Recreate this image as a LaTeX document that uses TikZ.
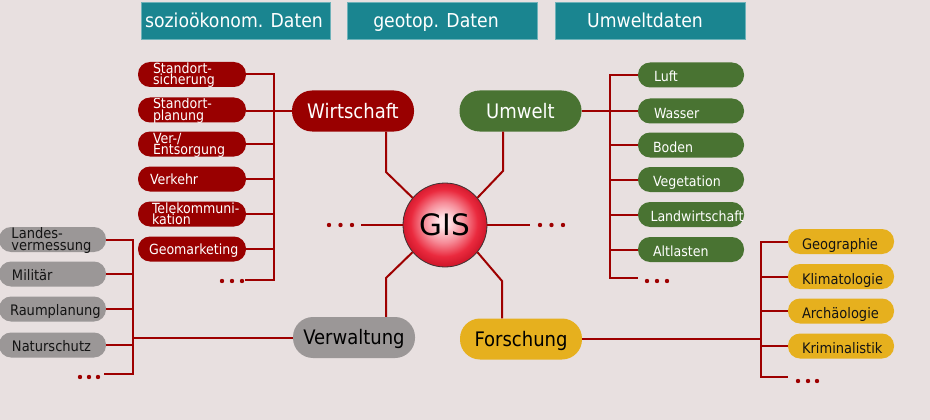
\documentclass[tikz,border=0pt]{standalone}
\usepackage{fontspec}
\setmainfont{DejaVu Sans Condensed}
\newfontfamily\gisfamily{DejaVu Sans}
\usetikzlibrary{calc}
\definecolor{bg}{RGB}{232,224,224}
\definecolor{boxred}{RGB}{153,0,0}
\definecolor{linered}{RGB}{158,0,0}
\definecolor{boxgreen}{RGB}{73,115,50}
\definecolor{boxgray}{RGB}{155,151,151}
\definecolor{boxyellow}{RGB}{230,176,30}
\definecolor{topteal}{RGB}{26,133,144}
\definecolor{topedge}{RGB}{110,178,185}
\definecolor{gispale}{RGB}{255,228,232}
\definecolor{gispink}{RGB}{246,140,152}
\definecolor{gisred}{RGB}{234,42,62}
\definecolor{gisdark}{RGB}{210,24,44}
\definecolor{gisborder}{RGB}{60,50,50}
\pgfdeclareradialshading{gisball}{\pgfpoint{-1bp}{2bp}}{color(0bp)=(gispale); color(3bp)=(gispale); color(12bp)=(gispink); color(20bp)=(gisred); color(25bp)=(gisdark); color(50bp)=(gisdark)}
\newcommand\OneLine[5]{%
  \begin{scope}\clip[rounded corners=12pt] (#1.south west) rectangle (#1.north east);
  \node[#4, anchor=base west] (#1t) at ($(#1.west)+(#2,#3)$) {#5};\end{scope}}
\newcommand\TwoLine[7]{%
  \begin{scope}\clip[rounded corners=12pt] (#1.south west) rectangle (#1.north east);
  \node[#4, anchor=base west] (#1t) at ($(#1.west)+(#2,#3)$) {\vtop{\baselineskip=#5\lineskiplimit=-50pt\hbox{#6}\hbox{#7}}};\end{scope}}
\tikzset{
  conn/.style={draw=linered, line width=2pt},
  item/.style={minimum height=25pt, rounded corners=12pt, inner sep=0pt},
  itemred/.style={item, fill=boxred, minimum width=108pt},
  itemgreen/.style={item, fill=boxgreen, minimum width=106pt},
  itemgray/.style={item, fill=boxgray, minimum width=107pt},
  itemyellow/.style={item, fill=boxyellow, minimum width=106pt},
  wtext/.style={text=white, inner sep=0pt, font=\fontsize{14}{11}\selectfont},
  btext/.style={text=black!92, inner sep=0pt, font=\fontsize{14.5}{12}\selectfont},
  big/.style={minimum width=122pt, minimum height=41pt, rounded corners=20pt, inner sep=0pt, font=\fontsize{20}{24}\selectfont, text height=18.6pt, text depth=4pt},
  topbox/.style={fill=topteal, draw=topedge, line width=0.6pt, minimum height=37pt, inner sep=0pt},
  toptext/.style={text=white, inner sep=0pt, font=\fontsize{19.2}{23}\selectfont, text height=18pt, text depth=4pt},
  dot/.style={fill=linered}
}
\begin{document}
\begin{tikzpicture}[x=1pt,y=-1pt]
\useasboundingbox (0,0) rectangle (930,420);
\fill[bg] (0,0) rectangle (930,420);

% top data boxes
\node[topbox, minimum width=189pt] (d1) at (235.5,20.5) {};
\node[toptext] (d1t) at (234,20.5) {sozioökonom. Daten};
\node[topbox, minimum width=190pt] (d2) at (442,20.5) {};
\node[toptext] (d2t) at (436,20.5) {geotop. Daten};
\node[topbox, minimum width=190pt] (d3) at (650,20.5) {};
\node[toptext] (d3t) at (645,20.5) {Umweltdaten};

% main nodes
\node[big, fill=boxred, text=white] (wirt) at (353,111) {Wirtschaft};
\node[big, fill=boxgreen, text=white] (umw) at (520.5,111) {Umwelt};
\node[big, fill=boxgray, text=black] (verw) at (354,337.5) {Verwaltung};
\node[big, fill=boxyellow, text=black] (forsch) at (521,339) {Forschung};

% red items
\node[itemred] (r1) at (192,74.5) {};
\node[itemred] (r2) at (192,110) {};
\node[itemred] (r3) at (192,144) {};
\node[itemred] (r4) at (192,179) {};
\node[itemred] (r5) at (192,214) {};
\node[itemred] (r6) at (192,249) {};
\TwoLine{r1}{15}{-1}{wtext}{11.5pt}{Standort-}{sicherung}
\TwoLine{r2}{15}{-1}{wtext}{11.5pt}{Standort-}{planung}
\TwoLine{r3}{15}{-1}{wtext}{11.5pt}{Ver-/}{Entsorgung}
\OneLine{r4}{12}{5}{wtext}{Verkehr}
\TwoLine{r5}{14}{-1}{wtext}{11.5pt}{Telekommuni-}{kation}
\OneLine{r6}{11}{5}{wtext}{Geomarketing}

% green items
\node[itemgreen] (e1) at (691,75) {};
\node[itemgreen] (e2) at (691,111) {};
\node[itemgreen] (e3) at (691,145) {};
\node[itemgreen] (e4) at (691,179.5) {};
\node[itemgreen] (e5) at (691,214.5) {};
\node[itemgreen] (e6) at (691,249.5) {};
\OneLine{e1}{16}{7}{wtext}{Luft}
\OneLine{e2}{16}{7}{wtext}{Wasser}
\OneLine{e3}{15}{7}{wtext}{Boden}
\OneLine{e4}{15}{7}{wtext}{Vegetation}
\OneLine{e5}{12.5}{7}{wtext}{Landwirtschaft}
\OneLine{e6}{15}{7}{wtext}{Altlasten}

% gray items
\node[itemgray] (g1) at (52.5,239.5) {};
\node[itemgray] (g2) at (52.5,274) {};
\node[itemgray] (g3) at (52.5,309) {};
\node[itemgray] (g4) at (52.5,345) {};
\TwoLine{g1}{12.5}{-1.5}{btext}{12pt}{Landes-}{vermessung}
\OneLine{g2}{13}{6.5}{btext}{Militär}
\OneLine{g3}{11}{6.5}{btext}{Raumplanung}
\OneLine{g4}{13}{6.5}{btext}{Naturschutz}

% yellow items
\node[itemyellow] (y1) at (841,241.5) {};
\node[itemyellow] (y2) at (841,276.5) {};
\node[itemyellow] (y3) at (841,311) {};
\node[itemyellow] (y4) at (841,346) {};
\OneLine{y1}{14}{7.7}{btext}{Geographie}
\OneLine{y2}{14}{7.7}{btext}{Klimatologie}
\OneLine{y3}{14}{7.7}{btext}{Archäologie}
\OneLine{y4}{14}{7.7}{btext}{Kriminalistik}

% GIS
\node[circle, minimum size=84pt, inner sep=0pt, draw=gisborder, line width=0.8pt, shade, shading=gisball,
      font=\gisfamily\fontsize{29.5}{34}\selectfont, text height=21.5pt, text depth=0pt] (gis) at (445,225) {GIS};

% red tree
\coordinate (rtop) at (274,74.5);
\coordinate (rbot) at (274,280);
\coordinate (rend) at (245,280);
\draw[conn] (r1.east) -- (rtop) -- (rbot) -- (rend);
\foreach \b in {r3,r4,r5,r6} \draw[conn] (\b.east) -- (\b.east -| rtop);
\draw[conn] (r2.east |- wirt.west) -- (wirt.west);
\foreach \x in {222,232,242} \fill[dot] (\x,281) circle (2.2pt);

% green tree
\coordinate (etop) at (610,75);
\coordinate (ebot) at (610,278);
\coordinate (eend) at (638,278);
\draw[conn] (e1.west) -- (etop) -- (ebot) -- (eend);
\foreach \b in {e3,e4,e5,e6} \draw[conn] (\b.west) -- (\b.west -| etop);
\draw[conn] (umw.east) -- (e2.west);
\foreach \x in {647,657,667} \fill[dot] (\x,281) circle (2.2pt);

% gray tree
\coordinate (gtop) at (133,239.5);
\coordinate (gbot) at (133,374);
\coordinate (gend) at (104,374);
\draw[conn] (g1.east) -- (gtop) -- (gbot) -- (gend);
\foreach \b in {g2,g3,g4} \draw[conn] (\b.east) -- (\b.east -| gtop);
\draw[conn] (verw.west) -- (verw.west -| gtop);
\foreach \x in {80,89,98} \fill[dot] (\x,377) circle (2.2pt);

% yellow tree
\coordinate (ytop) at (761,241.5);
\coordinate (ybot) at (761,377);
\coordinate (yend) at (788,377);
\draw[conn] (y1.west) -- (ytop) -- (ybot) -- (yend);
\foreach \b in {y2,y3,y4} \draw[conn] (\b.west) -- (\b.west -| ytop);
\draw[conn] (forsch.east) -- (forsch.east -| ytop);
\foreach \x in {798,808,817} \fill[dot] (\x,381) circle (2.2pt);

% spokes
\coordinate (sw) at (386,172);
\coordinate (su) at (503,171);
\coordinate (sv) at (386,278);
\coordinate (sf) at (502,281);
\draw[conn] (wirt.south -| sw) -- (sw) -- (gis.140);
\draw[conn] (umw.south -| su) -- (su) -- (gis.40);
\draw[conn] (verw.north -| sv) -- (sv) -- (gis.220);
\draw[conn] (forsch.north -| sf) -- (sf) -- (gis.320);
\coordinate (sl) at (361,225);
\coordinate (sr) at (530,225);
\draw[conn] (gis.west) -- (sl);
\draw[conn] (gis.east) -- (sr);
\foreach \x in {329,340.5,352} \fill[dot] (\x,225) circle (2.2pt);
\foreach \x in {540,551.5,563} \fill[dot] (\x,225) circle (2.2pt);
\end{tikzpicture}
\end{document}
